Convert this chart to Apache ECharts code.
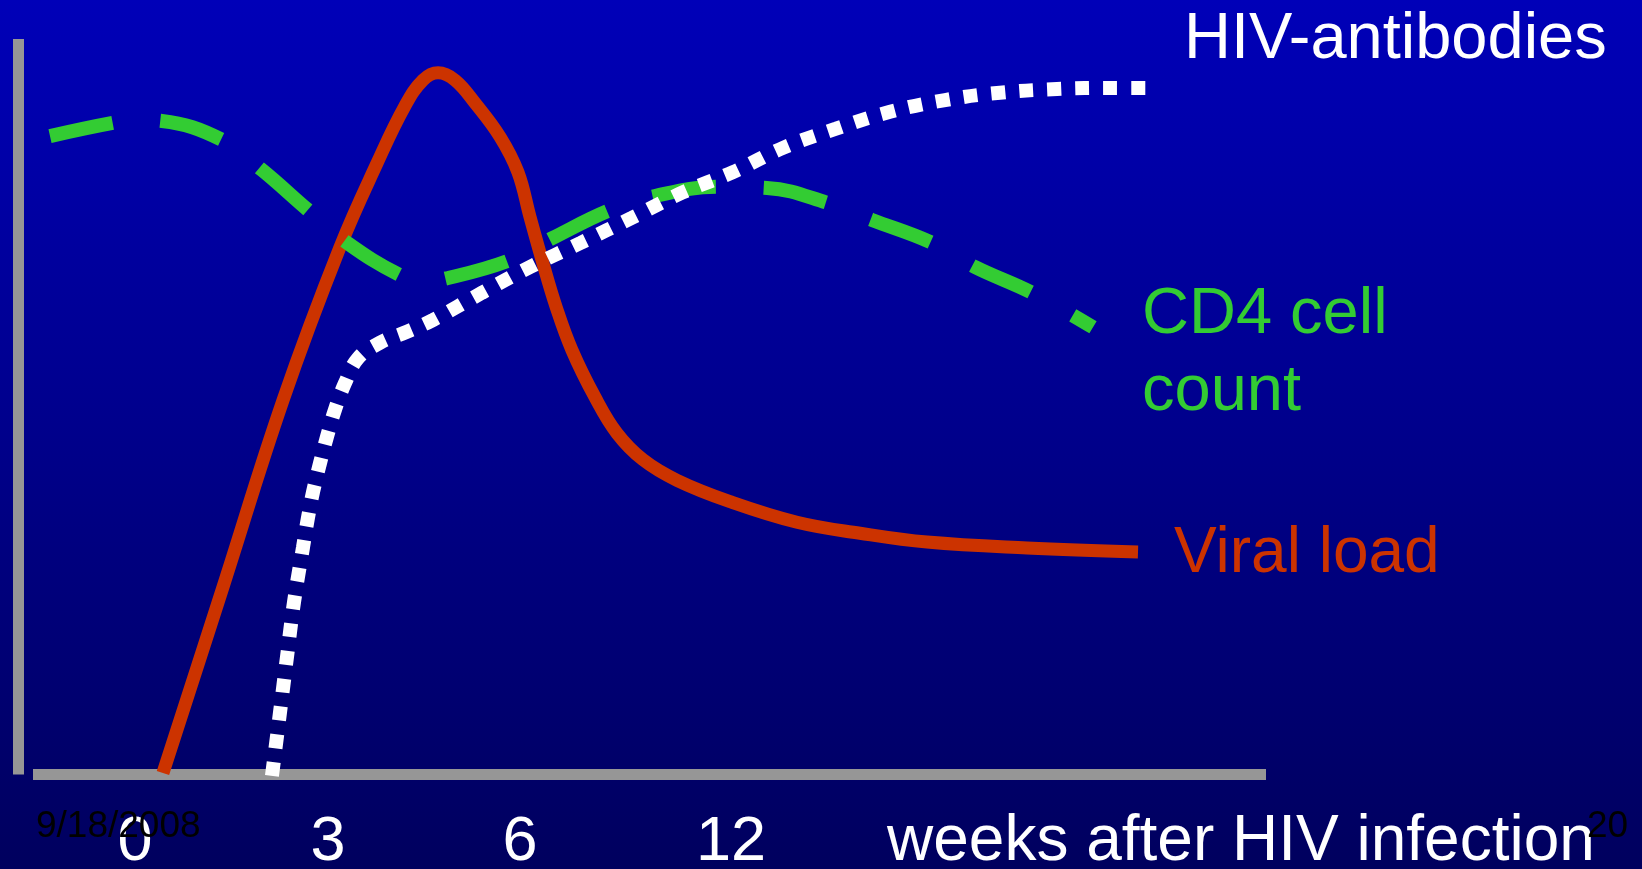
<!DOCTYPE html>
<html>
<head>
<meta charset="utf-8">
<title>HIV infection course</title>
<script src="https://cdn.jsdelivr.net/npm/echarts@6/dist/echarts.min.js"></script>
<style>
  html, body { margin: 0; padding: 0; width: 100%; height: 100%; overflow: hidden; }
  #chart { width: 1642px; height: 869px; background: linear-gradient(to bottom, rgb(0,0,184) 0%, rgb(0,0,94) 100%); }
</style>
</head>
<body>
<div id="chart"></div>
<script>
// Schematic timeline: x runs 0..100 along the horizontal axis, y is relative level 0..100.
const tickPositions = [8.27, 23.93, 39.5, 56.61];
const tickLabels = ['0', '3', '6', '12'];

// Viral load [time, level]
const viralLoad = [
  [10.54, 0.2], [15.41, 25.5], [20.28, 50.9], [24.9, 71.7], [27.9, 83.1],
  [30.17, 90.9], [31.63, 94.4], [32.85, 95.4], [34.23, 94.4], [35.85, 91.3],
  [37.88, 86.7], [39.33, 81.9], [40.31, 75.8], [41.36, 69.5], [42.42, 63.6],
  [43.71, 57.7], [45.58, 51.3], [47.36, 46.4], [49.47, 42.8], [52.23, 40.0],
  [56.53, 37.1], [61.96, 34.3], [67.07, 32.8], [72.51, 31.6], [80.62, 30.8],
  [89.62, 30.25]
];

// CD4 cell count [time, level]
const cd4Count = [
  [1.38, 86.8], [6.49, 88.6], [8.43, 89.0], [10.46, 88.85], [15.33, 86.3],
  [18.57, 82.2], [22.3, 76.75], [25.47, 72.3], [29.76, 67.9], [31.71, 67.1],
  [33.66, 67.5], [38.69, 69.95], [42.09, 72.9], [46.8, 76.75], [50.45, 78.65],
  [55.56, 79.9], [59.53, 79.75], [64.48, 77.7], [68.05, 75.4], [72.91, 72.3],
  [76.4, 69.0], [81.02, 65.5], [85.97, 60.8]
];

// HIV-antibodies [time, level]
const antibodies = [
  [19.38, -0.2], [20.03, 8.4], [20.6, 16.0], [21.17, 23.45], [21.9, 30.9],
  [22.3, 34.9], [22.71, 38.4], [23.28, 42.35], [23.84, 45.9], [24.49, 49.6],
  [25.3, 53.2], [26.36, 56.6], [28.14, 58.7], [30.33, 60.2], [32.44, 61.8],
  [36.42, 65.5], [40.31, 69.0], [44.44, 72.3], [48.58, 75.7], [52.64, 79.1],
  [56.77, 81.9], [60.83, 85.2], [65.13, 87.8], [69.51, 90.1], [73.97, 91.7],
  [78.43, 92.7], [83.05, 93.2], [87.51, 93.35], [90.35, 93.35]
];

const FONT = '"Liberation Sans", Arial, Helvetica, sans-serif';
const AXIS_GREY = '#969696';

function textEl(text, x, baseline, size, color) {
  // place by baseline: the canvas 'middle' line sits about 0.31em above the alphabetic baseline
  const y = baseline - 0.31 * size;
  return {
    type: 'text',
    silent: true,
    z: 10,
    style: {
      text: text, x: x, y: y,
      fill: color,
      font: size + 'px ' + FONT,
      align: 'left', verticalAlign: 'middle',
      textAlign: 'left', textVerticalAlign: 'middle'
    }
  };
}

const chart = echarts.init(document.getElementById('chart'), null, { renderer: 'canvas' });

chart.setOption({
  backgroundColor: 'transparent',
  animation: false,
  grid: {
    left: 33, right: 376, top: 39, bottom: 94.5,
    containLabel: false,
    outerBoundsMode: 'none'
  },
  xAxis: {
    type: 'value',
    min: 0, max: 100,
    axisLine: { show: true, onZero: false, lineStyle: { color: AXIS_GREY, width: 11, cap: 'butt' } },
    axisTick: { show: false },
    splitLine: { show: false },
    axisLabel: {
      show: true,
      customValues: tickPositions,
      formatter: function (v) {
        let best = 0;
        for (let i = 1; i < tickPositions.length; i++) {
          if (Math.abs(tickPositions[i] - v) < Math.abs(tickPositions[best] - v)) best = i;
        }
        return tickLabels[best];
      },
      color: '#ffffff',
      fontSize: 63,
      fontFamily: FONT,
      margin: 37,
      hideOverlap: false,
      showMinLabel: true,
      showMaxLabel: true
    }
  },
  yAxis: {
    type: 'value',
    min: 0, max: 100,
    offset: 14.5,
    axisLine: { show: true, onZero: false, lineStyle: { color: AXIS_GREY, width: 11, cap: 'butt' } },
    axisTick: { show: false },
    splitLine: { show: false },
    axisLabel: { show: false }
  },
  series: [
    {
      name: 'Viral load',
      type: 'line',
      data: viralLoad,
      smooth: 0.4,
      symbol: 'none',
      clip: false,
      z: 3,
      lineStyle: { color: '#CC3300', width: 13, cap: 'butt', join: 'round' }
    },
    {
      name: 'CD4 cell count',
      type: 'line',
      data: cd4Count,
      smooth: 0.4,
      symbol: 'none',
      clip: false,
      z: 4,
      lineStyle: { color: '#33CC33', width: 14, type: [64, 48], cap: 'butt' }
    },
    {
      name: 'HIV-antibodies',
      type: 'line',
      data: antibodies,
      smooth: 0.4,
      symbol: 'none',
      clip: false,
      z: 5,
      lineStyle: { color: '#ffffff', width: 14, type: [14, 14], cap: 'butt' }
    }
  ],
  graphic: [
    textEl('HIV-antibodies', 1184, 60, 65, '#ffffff'),
    textEl('CD4 cell', 1142, 335, 65, '#33CC33'),
    textEl('count', 1142, 412, 65, '#33CC33'),
    textEl('Viral load', 1174, 574, 64, '#CC3300'),
    textEl('weeks after HIV infection', 887, 862, 64, '#ffffff'),
    textEl('9/18/2008', 36, 838, 37, '#000000'),
    textEl('20', 1587, 838, 37, '#000000')
  ]
});
</script>
</body>
</html>
